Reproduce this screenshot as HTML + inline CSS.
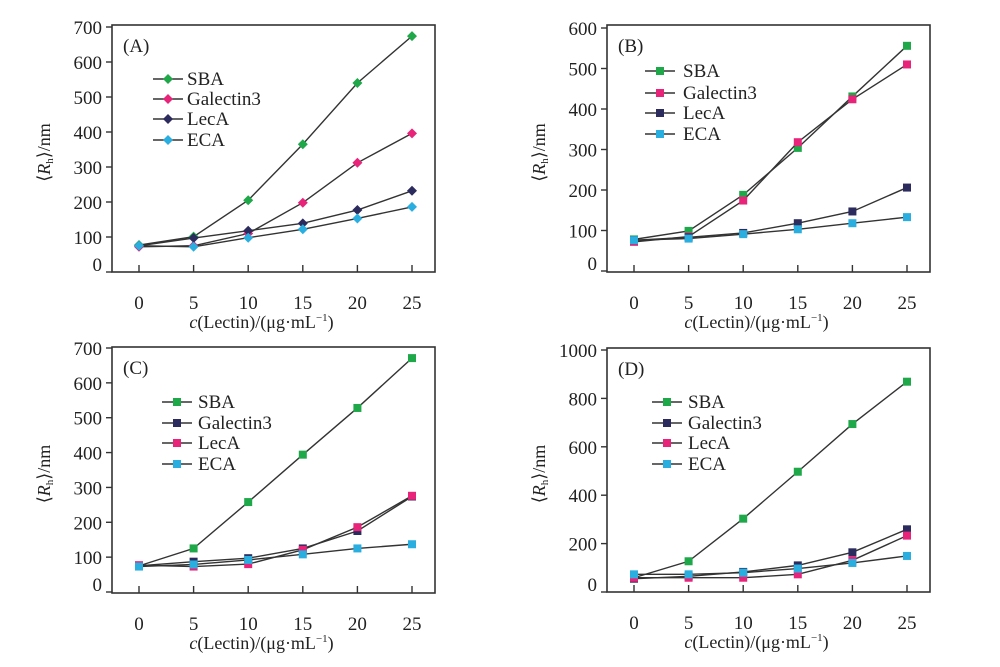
<!DOCTYPE html>
<html><head><meta charset="utf-8"><style>
html,body{margin:0;padding:0;background:#fff;}
svg{display:block;font-family:"Liberation Serif",serif;}
</style></head><body>
<svg id="fig" width="1000" height="667" viewBox="0 0 1000 667"></svg>
<script>
const xCats=[0,5,10,15,20,25];
const aSBA=[77,101,205,365,540,674];
const aGal=[72,75,110,198,312,396];
const aLec=[75,97,118,139,177,232];
const aECA=[75,72,98,122,153,186];
const bSBA=[78,99,188,304,431,556];
const bGal=[72,85,174,318,424,510];
const bLec=[76,83,94,118,147,206];
const bECA=[76,80,91,103,118,133];
const cSBA=[75,125,258,394,528,671];
const cGal=[75,87,97,125,175,274];
const cLec=[77,73,80,121,186,276];
const cECA=[73,79,92,108,125,137];
const dSBA=[59,127,303,497,694,869];
const dGal=[55,65,83,110,164,259];
const dLec=[59,59,59,73,131,233];
const dECA=[73,73,80,97,120,149];
const aTicks=[0,100,200,300,400,500,600,700];
const bTicks=[0,100,200,300,400,500,600];
const cTicks=[0,100,200,300,400,500,600,700];
const dTicks=[0,200,400,600,800,1000];
const seriesNames=["SBA","Galectin3","LecA","ECA"];

const NS="http://www.w3.org/2000/svg";
const svg=document.getElementById('fig');
const G="#1fa84a",P="#e8247a",N="#2b2b5e",C="#2aaee0";
function mk(t,a,p){const e=document.createElementNS(NS,t);for(const k in a)e.setAttribute(k,a[k]);(p||svg).appendChild(e);return e;}

const panels=[
 {id:'a',label:'(A)',L:112,R:435,T:25,B:272,x0:139,x25:412,yMin:0,yMax:700,y0px:272,yTopPx:27,ticks:aTicks,data:[aSBA,aGal,aLec,aECA],cols:[G,P,N,C],marker:'diamond',leg:{x1:153,x2:183,tx:187,ys:[79,99,119,140]}},
 {id:'b',label:'(B)',L:607,R:930,T:25,B:272,x0:634,x25:907,yMin:0,yMax:600,y0px:271,yTopPx:28,ticks:bTicks,data:[bSBA,bGal,bLec,bECA],cols:[G,P,N,C],marker:'square',leg:{x1:645,x2:675,tx:683,ys:[71,93,113,134]}},
 {id:'c',label:'(C)',L:112,R:435,T:347,B:593,x0:139,x25:412,yMin:0,yMax:700,y0px:592,yTopPx:348,ticks:cTicks,data:[cSBA,cGal,cLec,cECA],cols:[G,N,P,C],marker:'square',leg:{x1:162,x2:192,tx:198,ys:[402,423,443,464]}},
 {id:'d',label:'(D)',L:607,R:930,T:348,B:592,x0:634,x25:907,yMin:0,yMax:1000,y0px:592,yTopPx:350,ticks:dTicks,data:[dSBA,dGal,dLec,dECA],cols:[G,N,P,C],marker:'square',leg:{x1:652,x2:682,tx:688,ys:[402,423,443,464]}}
];

panels.forEach(p=>{
 const g=mk('g',{});
 
 
 const xs=v=>p.x0+(v-0)/(25-0)*(p.x25-p.x0);
 const ys=v=>p.y0px-(v-p.yMin)/(p.yMax-p.yMin)*(p.y0px-p.yTopPx);
 const box=mk('rect',{x:p.L,y:p.T,width:p.R-p.L,height:p.B-p.T,fill:'none',stroke:'#333','stroke-width':1.6},g);
 
 
 xCats.forEach(v=>{
  const x=xs(v);
  mk('line',{x1:x,x2:x,y1:p.B,y2:p.B-7,stroke:'#333','stroke-width':1.4},g);
  const t=mk('text',{x:x,y:p.B+37,'text-anchor':'middle','font-size':19,fill:'#222'},g);
  t.textContent=v;
  
  
 });
 p.ticks.forEach(v=>{
  const y=ys(v);
  mk('line',{x1:p.L,x2:p.L-6,y1:y,y2:y,stroke:'#333','stroke-width':1.4},g);
  const t=mk('text',{x:p.L-10,y:(v===0?y-1:y+7),'text-anchor':'end','font-size':19,fill:'#222'},g);
  t.textContent=v;
  
  
 });
 const pl=mk('text',{x:p.L+11,y:p.T+27,'font-size':19,fill:'#222'},g);
 pl.textContent=p.label;
 
 
 const yl=mk('text',{transform:`translate(${p.L-62},${(p.T+p.B)/2+4}) rotate(-90)`,'text-anchor':'middle','font-size':18,fill:'#222'},g);
 yl.innerHTML='⟨<tspan font-style="italic">R</tspan><tspan font-size="11" dy="3">h</tspan><tspan dy="-3">⟩/nm</tspan>';
 
 
 const xl=mk('text',{x:(p.L+p.R)/2-12,y:p.B+56,'text-anchor':'middle','font-size':18,fill:'#222'},g);
 xl.innerHTML='<tspan font-style="italic">c</tspan>(Lectin)/(μg·mL<tspan font-size="11" dy="-7">−1</tspan><tspan dy="7">)</tspan>';
 
 
 const drawMarker=(x,y,col,par)=>{
  let m;
  if(p.marker==='diamond') m=mk('polygon',{points:`${x},${y-5} ${x+5},${y} ${x},${y+5} ${x-5},${y}`,fill:col},par);
  else m=mk('rect',{x:x-4,y:y-4,width:8,height:8,fill:col},par);
  return m;
 };
 p.data.forEach((arr,si)=>{
  const sg=mk('g',{},g);
  
  
  const pts=arr.map((v,i)=>xs(xCats[i])+','+ys(v)).join(' ');
  mk('polyline',{points:pts,fill:'none',stroke:'#333','stroke-width':1.4},sg);
  arr.forEach((v,i)=>{
   const m=drawMarker(xs(xCats[i]),ys(v),p.cols[si],sg);
   
   
  });
  const lg=mk('g',{},g);
  
  
  const ly=p.leg.ys[si];
  mk('line',{x1:p.leg.x1,x2:p.leg.x2,y1:ly,y2:ly,stroke:'#333','stroke-width':1.6},lg);
  drawMarker((p.leg.x1+p.leg.x2)/2,ly,p.cols[si],lg);
  const lt=mk('text',{x:p.leg.tx,y:ly+6,'font-size':19,fill:'#222'},lg);
  lt.textContent=seriesNames[si];
 });
});
</script>
</body></html>
